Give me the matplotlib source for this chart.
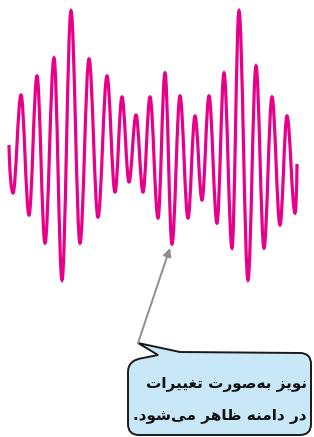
import matplotlib
matplotlib.use("Agg")
import matplotlib.pyplot as plt
from matplotlib.path import Path
from matplotlib.patches import PathPatch

# wave turning points (pixel-like units, y grows downward)
wave_x = [9, 13, 21, 29, 37, 45, 54, 62, 71, 80, 89, 98, 107, 115, 122, 129, 136,
          143, 150, 158, 165, 172, 180, 188, 195, 202, 209, 217, 224, 232, 239, 248,
          256, 264, 272, 280, 287, 295, 297]
wave_y = [145, 193, 95, 215, 76, 243, 58, 280, 11, 243, 59, 217, 76, 192, 97, 182, 115,
          192, 97, 218, 73, 244, 96, 218, 116, 200, 96, 223, 73, 248, 11, 280,
          66, 248, 97, 225, 116, 213, 164]

callout_lines = ["نویز به‌صورت تغییرات", "در دامنه ظاهر می‌شود."]

# arabic letter forms: isolated, final, initial, medial (None = no joining to the left)
FORMS = {
    "ا": ("\uFE8D", "\uFE8E", None, None),
    "ب": ("\uFE8F", "\uFE90", "\uFE91", "\uFE92"),
    "ت": ("\uFE95", "\uFE96", "\uFE97", "\uFE98"),
    "د": ("\uFEA9", "\uFEAA", None, None),
    "ر": ("\uFEAD", "\uFEAE", None, None),
    "ز": ("\uFEAF", "\uFEB0", None, None),
    "ش": ("\uFEB5", "\uFEB6", "\uFEB7", "\uFEB8"),
    "ص": ("\uFEB9", "\uFEBA", "\uFEBB", "\uFEBC"),
    "ظ": ("\uFEC5", "\uFEC6", "\uFEC7", "\uFEC8"),
    "غ": ("\uFECD", "\uFECE", "\uFECF", "\uFED0"),
    "م": ("\uFEE1", "\uFEE2", "\uFEE3", "\uFEE4"),
    "ن": ("\uFEE5", "\uFEE6", "\uFEE7", "\uFEE8"),
    "ه": ("\uFEE9", "\uFEEA", "\uFEEB", "\uFEEC"),
    "و": ("\uFEED", "\uFEEE", None, None),
    "ی": ("\uFBFC", "\uFBFD", "\uFBFE", "\uFBFF"),
}


def shape(text):
    # matplotlib has no arabic shaping, so pick joined forms and reverse
    out = []
    for i, ch in enumerate(text):
        if ch not in FORMS:
            if ch != "\u200c":
                out.append(ch)
            continue
        prev = text[i - 1] if i > 0 else ""
        nxt = text[i + 1] if i + 1 < len(text) else ""
        joins_prev = prev in FORMS and FORMS[prev][2] is not None
        joins_next = FORMS[ch][2] is not None and nxt in FORMS
        iso, fin, ini, med = FORMS[ch]
        if joins_prev and joins_next:
            out.append(med)
        elif joins_prev:
            out.append(fin)
        elif joins_next:
            out.append(ini)
        else:
            out.append(iso)
    return "".join(reversed(out))


def wave_path(xs, ys):
    verts = [(xs[0], ys[0])]
    codes = [Path.MOVETO]
    n = len(xs)
    for i in range(n - 1):
        x0, y0, x1, y1 = xs[i], ys[i], xs[i + 1], ys[i + 1]
        dx = x1 - x0
        if i == 0:
            c1 = (x0 + 0.15 * dx, y0 + 0.6 * (y1 - y0))
            c2 = (x1 - 0.4 * dx, y1)
        elif i == n - 2:
            c1 = (x0 + 0.4 * dx, y0)
            c2 = (x1 - 0.15 * dx, y1 - 0.6 * (y1 - y0))
        else:
            c1 = (x0 + 0.3634 * dx, y0)
            c2 = (x1 - 0.3634 * dx, y1)
        verts += [c1, c2, (x1, y1)]
        codes += [Path.CURVE4] * 3
    return Path(verts, codes)


fig = plt.figure(figsize=(3.14, 4.37), dpi=100)
ax = fig.add_axes([0, 0, 1, 1])
ax.set_xlim(0, 314)
ax.set_ylim(437, 0)
ax.axis("off")

ax.add_patch(PathPatch(wave_path(wave_x, wave_y), facecolor="none",
                       edgecolor="#E8008A", lw=2.3, capstyle="butt"))

# speech bubble
r = 11
L, R, T, B = 128, 311, 353, 435
bubble = [
    (Path.MOVETO, (138, 343)),
    (Path.LINETO, (180, 352)),
    (Path.LINETO, (R - r, T)),
    (Path.CURVE3, (R, T)), (Path.CURVE3, (R, T + r)),
    (Path.LINETO, (R, B - r)),
    (Path.CURVE3, (R, B)), (Path.CURVE3, (R - r, B)),
    (Path.LINETO, (L + r, B)),
    (Path.CURVE3, (L, B)), (Path.CURVE3, (L, B - r)),
    (Path.LINETO, (L, 372)),
    (Path.CURVE3, (L, 360)), (Path.CURVE3, (143, 358)),
    (Path.LINETO, (158, 355)),
    (Path.CLOSEPOLY, (138, 343)),
]
codes, verts = zip(*bubble)
ax.add_patch(PathPatch(Path(verts, codes), facecolor="#C8E8F8",
                       edgecolor="#1a1a1a", lw=1.4, joinstyle="miter"))

ax.annotate("", xy=(170, 248), xytext=(138, 343),
            arrowprops=dict(arrowstyle="-|>", color="#8E8E8E", lw=1.4,
                            mutation_scale=12, shrinkA=0, shrinkB=0))

for k, line in enumerate(callout_lines):
    ax.text(307, 384 + 32 * k, shape(line), ha="right", va="center",
            fontsize=11, fontweight="bold", color="#111111",
            family=["DejaVu Sans"])

fig.savefig("out.png", dpi=100)
